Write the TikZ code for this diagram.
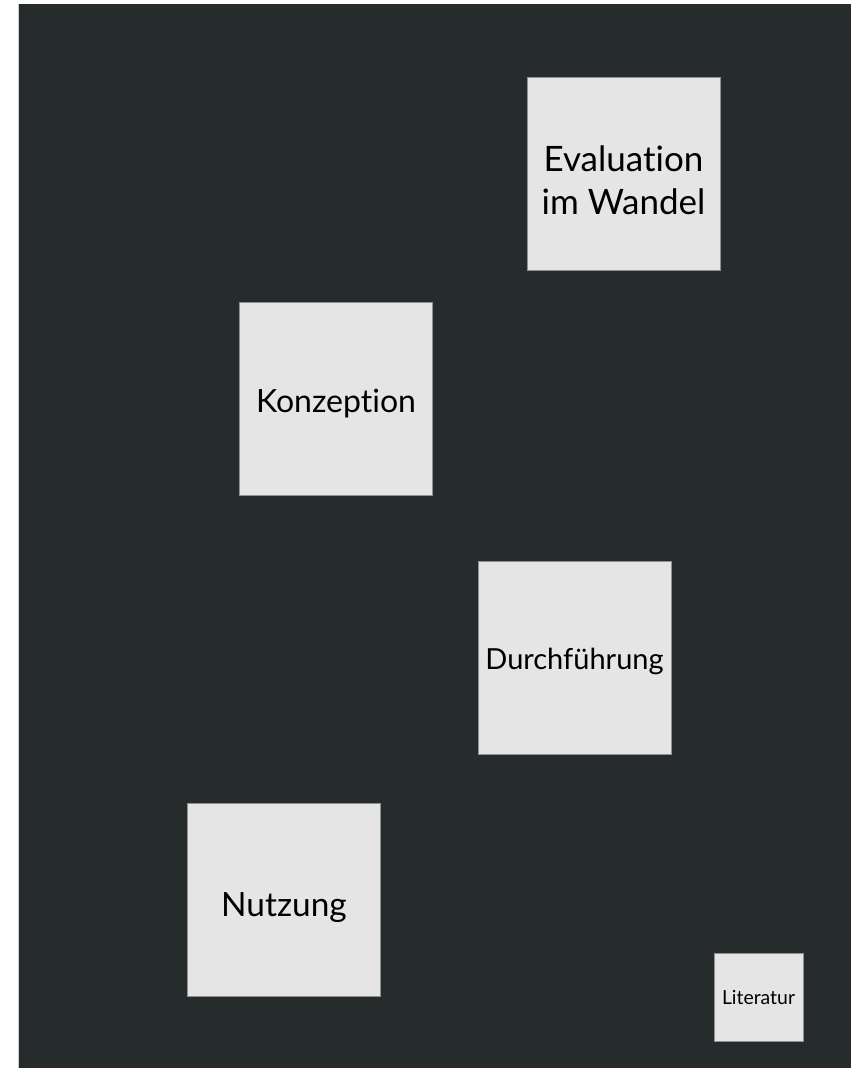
\documentclass[tikz,border=0pt]{standalone}
\usepackage{fontspec}
\setmainfont{Lato}[Ligatures={NoCommon,NoContextual,NoRare}]
\usetikzlibrary{positioning,backgrounds,calc}
\definecolor{board}{HTML}{252C2B}
\definecolor{card}{HTML}{E5E5E5}
\definecolor{cardline}{HTML}{8E9191}
\tikzstyle{bigcard}=[rectangle, fill=card, draw=cardline, line width=0.4pt, minimum width=96.5pt,
minimum height=96.5pt, inner sep=2pt, text centered, align=center, text=black, text depth=0pt]
\tikzstyle{smallcard}=[bigcard, minimum width=44.5pt, minimum height=44pt]

\begin{document}
\begin{tikzpicture}[x=0.5pt,y=-0.5pt]

    \useasboundingbox (0,0) rectangle (851,1068);
    \fill[white] (0,0) rectangle (851,1068);
    \fill[board] (19,4) rectangle (851,1068);
    \draw[gray!40, line width=0.6pt] (18.5,4) -- (18.5,1068);

% cards
    \node (eval) [bigcard, text height=41pt, font=\fontsize{17.5}{21.5}\selectfont] at (623.5,174) {Evaluation\\im Wandel};
    \node (konz) [bigcard, text height=14.5pt, font=\fontsize{16}{19}\selectfont] at (336,398.5) {Konzeption};
    \node (durch) [bigcard, text height=11.5pt, font=\fontsize{14.5}{17}\selectfont] at (574.5,657.5) {Durchführung};
    \node (nutz) [bigcard, text height=16.5pt, font=\fontsize{16.7}{20}\selectfont] at (284,899.5) {Nutzung};
    \node (lit) [smallcard, text height=7.5pt, font=\fontsize{9.7}{12}\selectfont] at (758.5,997) {Literatur};

\end{tikzpicture}
\end{document}
